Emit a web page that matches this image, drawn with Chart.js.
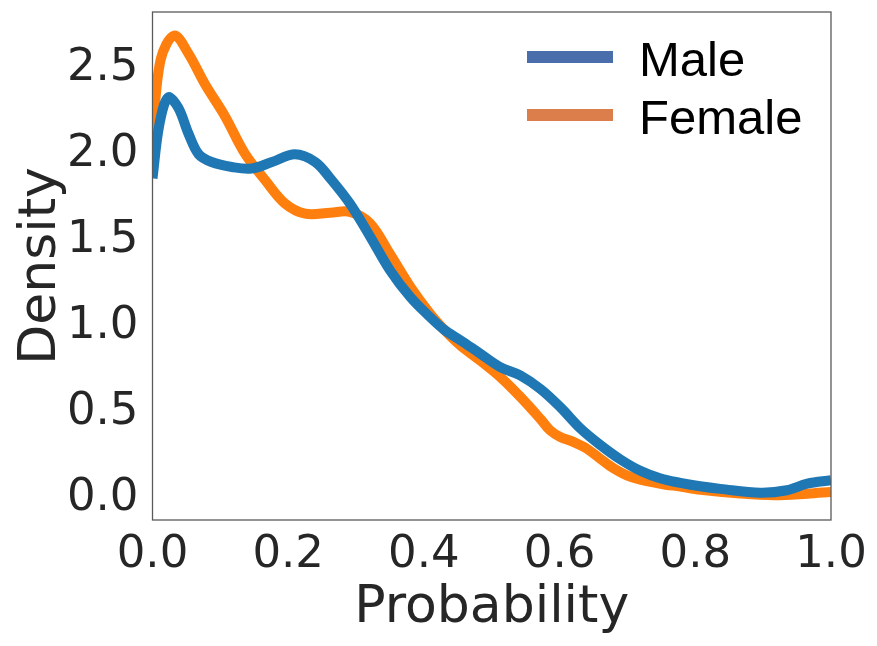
<!DOCTYPE html>
<html>
<head>
<meta charset="utf-8">
<script src="https://cdn.jsdelivr.net/npm/chart.js@4"></script>
<style>
html,body{margin:0;padding:0;background:#fff;}
#wrap{width:877px;height:646px;position:relative;}
</style>
</head>
<body>
<div id="wrap"><canvas id="c" width="877" height="646"></canvas></div>
<script>
const seriesLabels = ["Male", "Female"];
const maleX = [0.000,0.010,0.023,0.038,0.053,0.068,0.087,0.117,0.146,0.176,0.210,0.240,0.262,0.291,0.321,0.350,0.380,0.409,0.430,0.4535,0.483,0.5125,0.542,0.572,0.601,0.631,0.660,0.690,0.719,0.749,0.778,0.807,0.837,0.896,0.935,0.965,1.000];
const maleY = [1.86,2.17,2.33,2.27,2.12,2.00,1.955,1.926,1.917,1.955,2.00,1.955,1.86,1.713,1.52,1.326,1.17,1.054,0.98,0.92,0.841,0.763,0.715,0.635,0.53,0.405,0.31,0.225,0.16,0.115,0.09,0.07,0.055,0.033,0.047,0.085,0.105];
const femaleX = [0.000,0.012,0.032,0.053,0.077,0.107,0.136,0.166,0.195,0.225,0.262,0.291,0.321,0.350,0.380,0.409,0.430,0.4535,0.483,0.5125,0.542,0.572,0.586,0.601,0.621,0.640,0.660,0.680,0.699,0.719,0.749,0.778,0.808,0.866,0.916,0.965,1.000];
const femaleY = [2.11,2.55,2.69,2.585,2.41,2.22,2.005,1.85,1.715,1.655,1.66,1.665,1.597,1.42,1.23,1.074,0.98,0.89,0.80,0.705,0.59,0.46,0.395,0.357,0.327,0.289,0.23,0.173,0.134,0.109,0.085,0.068,0.05,0.028,0.018,0.027,0.037];
const xTicks = [0.0,0.2,0.4,0.6,0.8,1.0];
const yTicks = [0.0,0.5,1.0,1.5,2.0,2.5];
const lineColors = ["#1f77b4", "#ff7f0e"];
const legendColors = ["#4a6dac", "#dc7d4c"];

const pts = (xs, ys) => xs.map((x, i) => ({x: x, y: ys[i]}));

const frame = {
  id: 'frame',
  afterDatasetsDraw(chart) {
    const {ctx, chartArea: a} = chart;
    ctx.save();
    ctx.strokeStyle = '#5a5a5a';
    ctx.lineWidth = 1.3;
    ctx.strokeRect(a.left, a.top, a.right - a.left, a.bottom - a.top);
    ctx.restore();
  }
};

const legendIn = {
  id: 'legendIn',
  afterDraw(chart) {
    const ctx = chart.ctx;
    ctx.save();
    ctx.font = '49px "Liberation Sans", Arial, sans-serif';
    ctx.textBaseline = 'alphabetic';
    ctx.textAlign = 'left';
    chart.data.datasets.forEach((ds, i) => {
      const y = 57 + i * 58;
      ctx.fillStyle = legendColors[i];
      ctx.fillRect(527, y - 6, 86, 12);
      ctx.fillStyle = '#000';
      ctx.fillText(ds.label, 639, y + 19);
    });
    ctx.restore();
  }
};

new Chart(document.getElementById('c'), {
  type: 'line',
  data: {
    datasets: [
      {label: seriesLabels[0], data: pts(maleX, maleY), borderColor: lineColors[0], borderWidth: 10, pointRadius: 0, tension: 0.35, fill: false},
      {label: seriesLabels[1], data: pts(femaleX, femaleY), borderColor: lineColors[1], borderWidth: 10, pointRadius: 0, tension: 0.35, fill: false}
    ]
  },
  options: {
    responsive: false,
    animation: false,
    devicePixelRatio: 1,
    layout: {padding: {left: 0, right: 46, top: 12, bottom: 0}},
    plugins: {legend: {display: false}, tooltip: {enabled: false}},
    scales: {
      x: {
        type: 'linear', min: 0, max: 1,
        afterFit(s) { s.height = 126; s.paddingLeft = 0; s.paddingRight = 0; },
        afterBuildTicks(s) { s.ticks = xTicks.map(v => ({value: v})); },
        grid: {display: false, drawTicks: false},
        border: {display: false},
        ticks: {padding: 8, color: '#262626', font: {family: '"DejaVu Sans"', size: 45}, maxRotation: 0, autoSkip: false, callback: v => v.toFixed(1)},
        title: {display: true, text: 'Probability', color: '#262626', font: {family: '"DejaVu Sans"', size: 52}, padding: {top: 0, bottom: 6}}
      },
      y: {
        type: 'linear', min: -0.126, max: 2.827,
        afterFit(s) { s.width = 152.5; s.paddingTop = 0; s.paddingBottom = 0; },
        afterBuildTicks(s) { s.ticks = yTicks.map(v => ({value: v})); },
        grid: {display: false, drawTicks: false},
        border: {display: false},
        ticks: {padding: 14, color: '#262626', font: {family: '"DejaVu Sans"', size: 45}, autoSkip: false, callback: v => v.toFixed(1)},
        title: {display: true, text: 'Density', color: '#262626', font: {family: '"DejaVu Sans"', size: 52}, padding: {top: 10, bottom: 0}}
      }
    }
  },
  plugins: [frame, legendIn]
});
</script>
</body>
</html>
